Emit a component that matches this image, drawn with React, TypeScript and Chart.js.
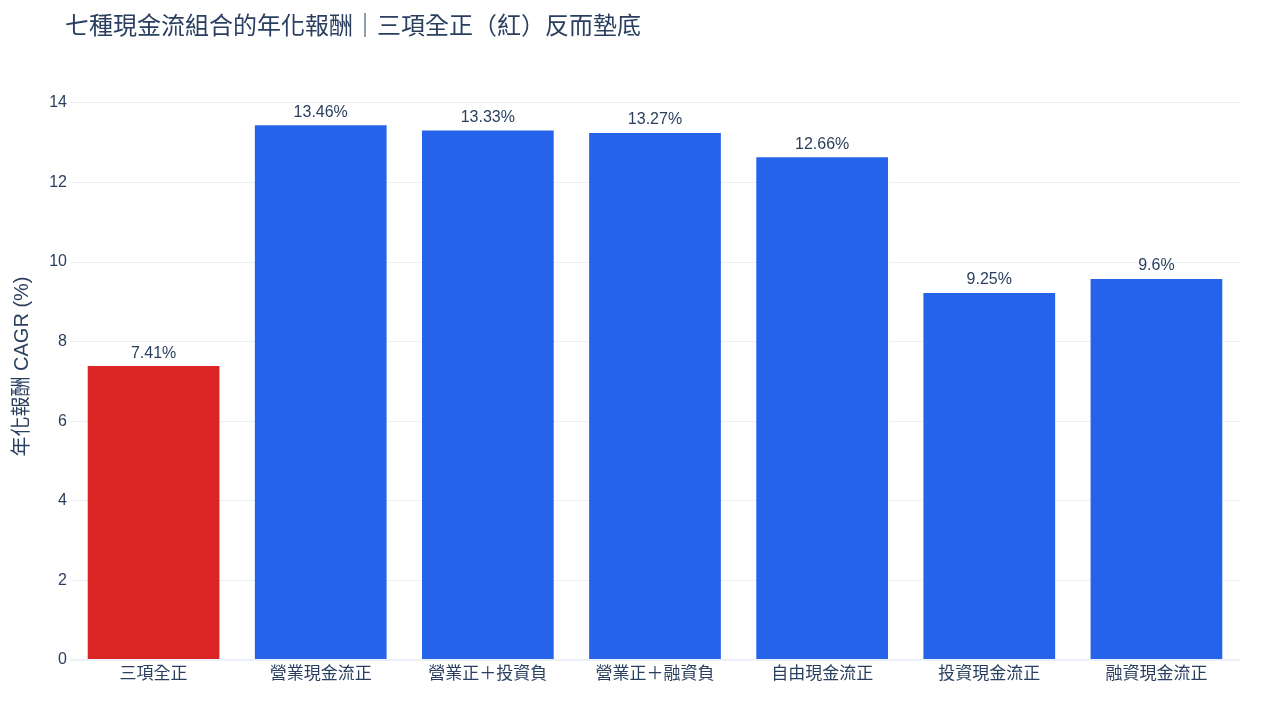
import { useEffect, useRef } from 'react';
import Chart from 'chart.js/auto';

const categories = ['三項全正', '營業現金流正', '營業正＋投資負', '營業正＋融資負', '自由現金流正', '投資現金流正', '融資現金流正'];
const cagrValues = [7.41, 13.46, 13.33, 13.27, 12.66, 9.25, 9.6];
const barColors = ['#dc2626', '#2563eb', '#2563eb', '#2563eb', '#2563eb', '#2563eb', '#2563eb'];
const yTicks = [0, 2, 4, 6, 8, 10, 12, 14];

const TITLE = '七種現金流組合的年化報酬｜三項全正（紅）反而墊底';
const Y_TITLE = '年化報酬 CAGR (%)';
const FONT = '"Liberation Sans", "Noto Sans CJK TC", sans-serif';
const TEXT_COLOR = '#2a3f5f';

// title drawn by hand so it doesn't take layout room
const titlePlugin = {
  id: 'plotTitle',
  afterDraw(chart: Chart) {
    const ctx = chart.ctx;
    ctx.save();
    ctx.font = `24px ${FONT}`;
    ctx.fillStyle = TEXT_COLOR;
    ctx.textAlign = 'left';
    ctx.textBaseline = 'middle';
    ctx.fillText(TITLE, 65, 27);
    ctx.restore();
  },
};

// value labels above each bar
const barLabelPlugin = {
  id: 'barLabels',
  afterDatasetsDraw(chart: Chart) {
    const ctx = chart.ctx;
    const meta = chart.getDatasetMeta(0);
    ctx.save();
    ctx.font = `16px ${FONT}`;
    ctx.fillStyle = TEXT_COLOR;
    ctx.textAlign = 'center';
    ctx.textBaseline = 'middle';
    meta.data.forEach((bar: any, i: number) => {
      ctx.fillText(`${cagrValues[i]}%`, bar.x, bar.y - 12);
    });
    ctx.restore();
  },
};

export default function App() {
  const canvasRef = useRef<HTMLCanvasElement>(null);
  const chartRef = useRef<Chart | null>(null);

  useEffect(() => {
    if (chartRef.current) {
      chartRef.current.destroy();
      chartRef.current = null;
    }
    const ctx = canvasRef.current?.getContext('2d');
    if (!ctx) return;

    chartRef.current = new Chart(ctx, {
      type: 'bar',
      data: {
        labels: categories,
        datasets: [{
          data: cagrValues,
          backgroundColor: barColors,
          borderColor: 'rgba(255,255,255,0.45)',
          borderWidth: 1,
          barPercentage: 0.8,
          categoryPercentage: 1,
        }],
      },
      options: {
        animation: false,
        responsive: true,
        maintainAspectRatio: false,
        layout: { padding: { top: 73, right: 40, bottom: 0, left: 0 } },
        plugins: {
          legend: { display: false },
          tooltip: { enabled: false },
          title: { display: false },
        },
        scales: {
          x: {
            grid: { display: false },
            border: { display: false },
            ticks: {
              color: TEXT_COLOR,
              font: { family: FONT, size: 17 },
              padding: -4,
              maxRotation: 0,
              autoSkip: false,
            },
            afterFit: (scale: any) => { scale.height = 60; },
          },
          y: {
            min: 0,
            max: 14.75,
            border: { display: false },
            grid: {
              drawTicks: false,
              color: '#EBF0F8',
              lineWidth: (c: any) => (c.tick && c.tick.value === 0 ? 2 : 1),
            },
            ticks: {
              stepSize: 2,
              color: TEXT_COLOR,
              font: { family: FONT, size: 16 },
              padding: 3,
            },
            afterBuildTicks: (scale: any) => {
              scale.ticks = yTicks.map((v) => ({ value: v }));
            },
            title: {
              display: true,
              text: Y_TITLE,
              color: TEXT_COLOR,
              font: { family: FONT, size: 20 },
              padding: { top: 10, bottom: 0 },
            },
            afterFit: (scale: any) => { scale.width = 70; },
          },
        },
      },
      plugins: [titlePlugin, barLabelPlugin],
    });

    return () => {
      if (chartRef.current) {
        chartRef.current.destroy();
        chartRef.current = null;
      }
    };
  }, []);

  return (
    <div style={{ position: 'absolute', left: 0, top: 0, width: 1280, height: 720, background: '#fff' }}>
      <canvas ref={canvasRef}></canvas>
    </div>
  );
}
